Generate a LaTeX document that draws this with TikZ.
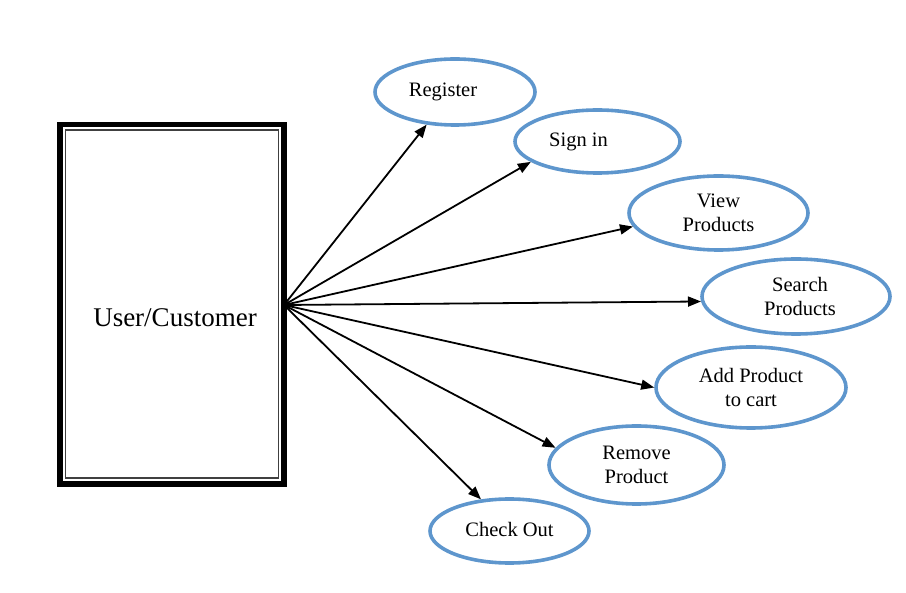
\documentclass[tikz,border=0pt]{standalone}
\usepackage{fontspec}
\setmainfont{Liberation Serif}
\usetikzlibrary{shapes.geometric,arrows.meta}
\definecolor{ublue}{RGB}{94,150,205}
\begin{document}
\begin{tikzpicture}[x=1pt,y=-1pt,
  uc/.style={ellipse,draw=ublue,line width=3.6pt,inner sep=0pt,align=center,
    font=\fontsize{20.5}{24}\selectfont},
  link/.style={line width=1.8pt,-{Triangle[length=13pt,width=10pt]}}]
\useasboundingbox (0,0) rectangle (906,593);
\node[draw,line width=5.5pt,minimum width=224pt,minimum height=359.5pt,inner sep=0pt] (box) at (172,304.25) {};
\node[draw=black!75,line width=1.4pt,minimum width=213pt,minimum height=348pt,inner sep=0pt] (inner) at (172,304) {};
\node[font=\fontsize{27}{30}\selectfont] (actor) at (175,318) {User/Customer};
\coordinate (o) at (284,305);
\node[uc,minimum width=160pt,minimum height=66pt] (reg) at (455,92) {\raisebox{5pt}{Register}\hspace{24pt}};
\node[uc,minimum width=165pt,minimum height=63pt] (sign) at (597.5,141.5) {\raisebox{4pt}{Sign in}\hspace{38pt}};
\node[uc,minimum width=179pt,minimum height=74pt] (view) at (718.5,213) {View\\Products};
\node[uc,minimum width=188pt,minimum height=75pt] (search) at (796,296.5) {\hspace{8pt}Search\\\hspace{8pt}Products};
\node[uc,minimum width=190pt,minimum height=81pt] (add) at (751,387.5) {Add Product\\to cart};
\node[uc,minimum width=175pt,minimum height=78pt] (remove) at (636.5,465) {Remove\\Product};
\node[uc,minimum width=159pt,minimum height=64pt] (check) at (509.5,531) {\raisebox{3pt}{Check Out}};
\draw[link] (o) -- (reg.229);
\draw[link] (o) -- (sign.197);
\draw[link] (o) -- (view.189);
\draw[link] (o) -- (search.183);
\draw[link] (o) -- (add.180);
\draw[link] (o) -- (remove.168);
\draw[link] (o) -- (check.132);
\end{tikzpicture}
\end{document}
